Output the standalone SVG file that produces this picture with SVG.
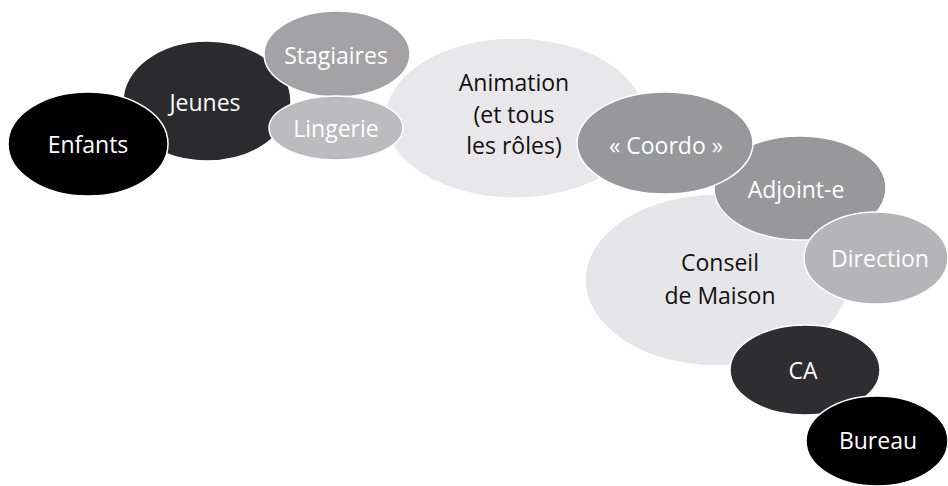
<svg xmlns="http://www.w3.org/2000/svg" width="948" height="486" viewBox="0 0 948 486">
<style>
ellipse{stroke:#ffffff;stroke-width:1.5}
text{font-family:"Open Sans","Liberation Sans",sans-serif;font-size:23px;text-anchor:middle}
.lt{fill:#ffffff}
.dk{fill:#111111}
</style>
<rect width="948" height="486" fill="#ffffff"/>
<g id="animation"><ellipse cx="515" cy="118" rx="130" ry="80" fill="#e8e8ea"/>
<text class="dk" x="514" y="91">Animation</text><text class="dk" x="514" y="123">(et tous</text><text class="dk" x="514" y="154">les rôles)</text></g>
<g id="conseil"><ellipse cx="717" cy="280" rx="132" ry="86" fill="#e6e6e8"/>
<text class="dk" x="720" y="271">Conseil</text><text class="dk" x="720" y="304">de Maison</text></g>
<g id="jeunes"><ellipse cx="207" cy="101" rx="84" ry="60" fill="#2b2b2d"/>
<text class="lt" x="205" y="111">Jeunes</text></g>
<g id="enfants"><ellipse cx="88" cy="144" rx="80" ry="52" fill="#000000"/>
<text class="lt" x="88" y="153">Enfants</text></g>
<g id="stagiaires"><ellipse cx="337" cy="54" rx="73" ry="43" fill="#a3a3a6"/>
<text class="lt" x="336" y="64">Stagiaires</text></g>
<g id="lingerie"><ellipse cx="336" cy="128" rx="67" ry="32" fill="#bcbcbe"/>
<text class="lt" x="336" y="137">Lingerie</text></g>
<g id="adjoint"><ellipse cx="800" cy="188" rx="86" ry="52" fill="#98989b"/>
<text class="lt" x="796" y="198">Adjoint-e</text></g>
<g id="coordo"><ellipse cx="665" cy="143" rx="88" ry="51" fill="#98989b"/>
<text class="lt" x="666" y="154">« Coordo »</text></g>
<g id="direction"><ellipse cx="876" cy="258" rx="72" ry="46" fill="#b5b5b8"/>
<text class="lt" x="880" y="267">Direction</text></g>
<g id="ca"><ellipse cx="805" cy="370" rx="75" ry="45" fill="#2e2e30"/>
<text class="lt" x="803" y="379">CA</text></g>
<g id="bureau"><ellipse cx="877" cy="441" rx="71" ry="45" fill="#000000"/>
<text class="lt" x="878" y="449">Bureau</text></g>
<g id="connectors"></g>
</svg>
